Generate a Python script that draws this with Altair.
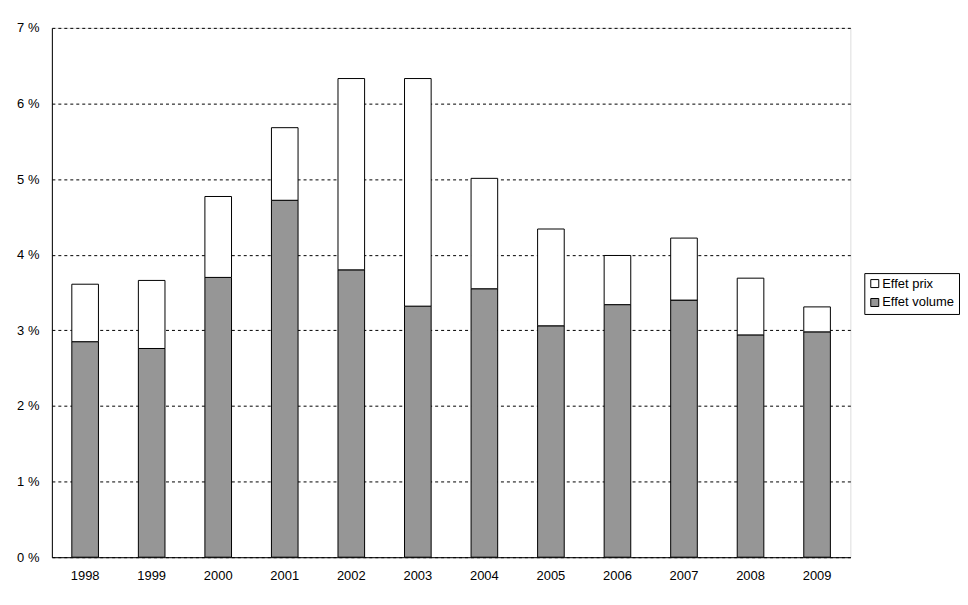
import altair as alt
import pandas as pd

years = ["1998", "1999", "2000", "2001", "2002", "2003", "2004", "2005", "2006", "2007", "2008", "2009"]
volume = [2.85, 2.76, 3.70, 4.72, 3.80, 3.32, 3.55, 3.06, 3.34, 3.40, 2.94, 2.98]
total = [3.61, 3.66, 4.77, 5.68, 6.33, 6.33, 5.01, 4.34, 3.99, 4.22, 3.69, 3.31]
prix = [round(t - v, 2) for t, v in zip(total, volume)]
series = ["Effet prix", "Effet volume"]
colors = ["white", "#969696"]

rows = []
for y, v, p in zip(years, volume, prix):
    rows.append({"annee": y, "effet": "Effet volume", "valeur": v, "ordre": 0})
    rows.append({"annee": y, "effet": "Effet prix", "valeur": p, "ordre": 1})
df = pd.DataFrame(rows)

FONT = "Liberation Sans"

chart = alt.Chart(df).mark_bar(stroke="black", strokeWidth=1).encode(
    x=alt.X("annee:N", title=None, sort=years,
            scale=alt.Scale(paddingInner=0.6, paddingOuter=0.3),
            axis=alt.Axis(labelAngle=0, ticks=False, domainColor="black",
                          labelPadding=12, labelFontSize=13, labelFont=FONT,
                          labelColor="black", grid=False)),
    y=alt.Y("valeur:Q", title=None, stack="zero",
            scale=alt.Scale(domain=[0, 7], nice=False),
            axis=alt.Axis(values=[0, 1, 2, 3, 4, 5, 6, 7], labelExpr="datum.value + ' %'",
                          ticks=False, domainColor="black", labelPadding=13,
                          labelFontSize=13, labelFont=FONT, labelColor="black",
                          grid=True, gridColor="black", gridDash=[3, 3], gridWidth=1)),
    color=alt.Color("effet:N", scale=alt.Scale(domain=series, range=colors),
                    legend=alt.Legend(title=None, orient="none", legendX=815, legendY=246,
                                      strokeColor="black", padding=4, symbolType="square",
                                      symbolSize=64, symbolStrokeColor="black",
                                      symbolStrokeWidth=1, labelFontSize=13, labelFont=FONT,
                                      labelColor="black", rowPadding=5, labelOffset=1,
                                      fillColor="white")),
    order=alt.Order("ordre:Q"),
).properties(
    width=801, height=531,
    autosize=alt.AutoSizeParams(type="none"),
    padding={"left": 44, "top": 19, "right": 110, "bottom": 40},
).configure_view(stroke=None).configure(background="white")

chart.save("out.html", embed_options={"renderer": "svg", "actions": False})
